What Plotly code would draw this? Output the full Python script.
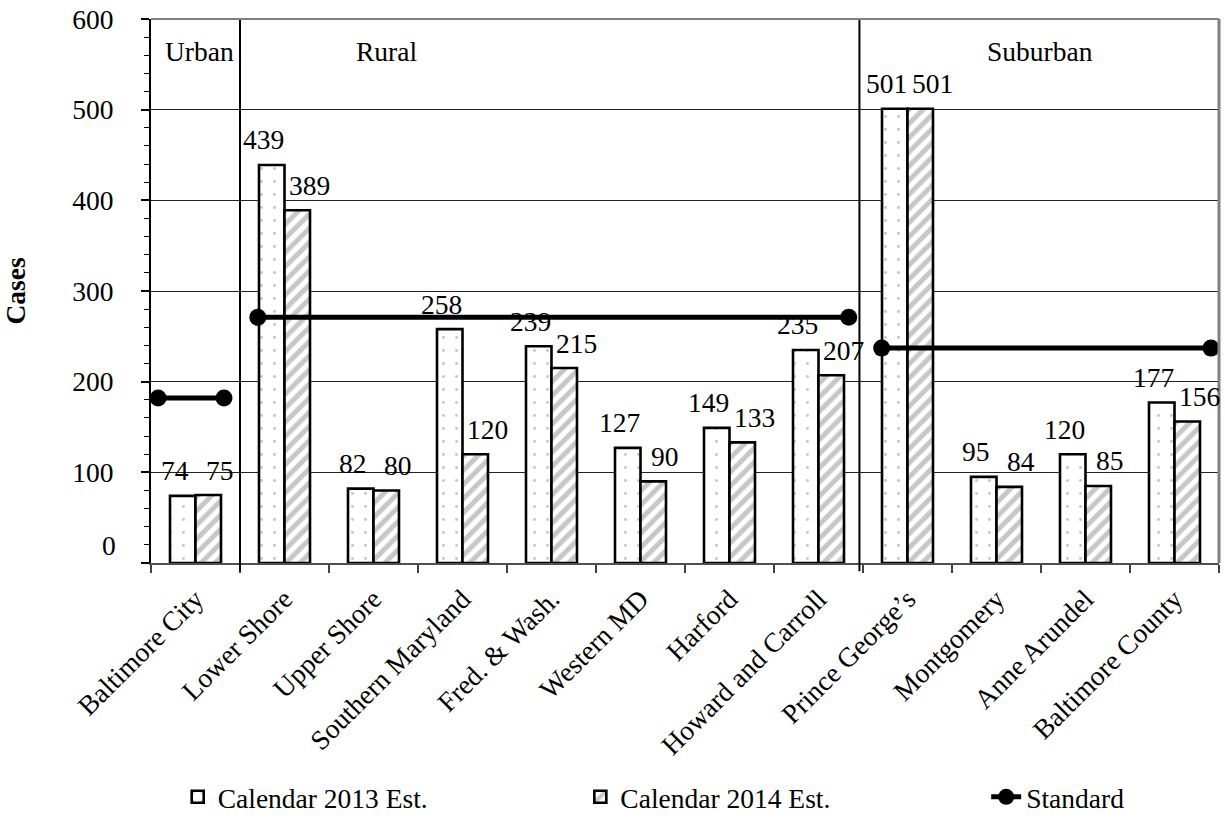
import plotly.graph_objects as go

# Caseload estimates by region, with the standard for each region type
categories = [
    "Baltimore City", "Lower Shore", "Upper Shore", "Southern Maryland",
    "Fred. & Wash.", "Western MD", "Harford", "Howard and Carroll",
    "Prince George’s", "Montgomery", "Anne Arundel", "Baltimore County",
]
est_2013 = [74, 439, 82, 258, 239, 127, 149, 235, 501, 95, 120, 177]
est_2014 = [75, 389, 80, 120, 215, 90, 133, 207, 501, 84, 85, 156]

region_names = ["Urban", "Rural", "Suburban"]
standard = [182, 271, 237]
# span of each standard line, in category-index units
standard_start = [-0.42, 0.70, 7.71]
standard_end = [0.32, 7.34, 11.41]

y_tick_vals = [0, 100, 200, 300, 400, 500, 600]
y_tick_text = ["", "100", "200", "300", "400", "500", "600"]

FONT = "Liberation Serif, Times New Roman, serif"
FS = 27.5
BARGAP = 0.427

x_idx = list(range(len(categories)))

fig = go.Figure()

fig.add_trace(go.Bar(
    x=x_idx, y=est_2013, name="Calendar 2013 Est.", legend="legend",
    showlegend=True,
    marker=dict(
        color="white",
        line=dict(color="black", width=2.6),
        pattern=dict(shape=".", fgcolor="#8c8c8c", bgcolor="white",
                     size=13, solidity=0.04),
    ),
))
fig.add_trace(go.Bar(
    x=x_idx, y=est_2014, name="Calendar 2014 Est.", legend="legend2",
    showlegend=True,
    marker=dict(
        color="white",
        line=dict(color="black", width=2.6),
        pattern=dict(shape="/", fgcolor="#909090", bgcolor="white",
                     size=10, solidity=0.5),
    ),
))

for i, (v, x0, x1) in enumerate(zip(standard, standard_start, standard_end)):
    fig.add_trace(go.Scatter(
        x=[x0, x1], y=[v, v], mode="lines+markers", name="Standard",
        legend="legend3", legendgroup="standard", showlegend=(i == 0),
        line=dict(color="black", width=5),
        marker=dict(color="black", size=17),
        cliponaxis=False,
    ))

# value labels above each bar
half = (1 - BARGAP) / 4
annotations = []
for i, (a, b) in enumerate(zip(est_2013, est_2014)):
    for off, val, dx in ((-half, a, -8), (half, b, 12)):
        annotations.append(dict(
            x=i + off, y=val, xref="x", yref="y", text=str(val),
            showarrow=False, yshift=25, xshift=dx, yanchor="middle",
            font=dict(family=FONT, size=FS, color="black"),
        ))

# region headings
for name, xpos in zip(region_names, [0.04, 2.15, 9.49]):
    annotations.append(dict(
        x=xpos, y=0.94, xref="x", yref="paper", text=name,
        showarrow=False, yanchor="middle",
        font=dict(family=FONT, size=FS, color="black"),
    ))

# zero label on the value axis
annotations.append(dict(
    x=0, y=19, xref="paper", yref="y", text="0", showarrow=False,
    xanchor="right", yanchor="middle", xshift=-33,
    font=dict(family=FONT, size=FS, color="black"),
))

shapes = []
# region dividers
for xb in [0.5, 7.46]:
    shapes.append(dict(
        type="line", xref="x", yref="paper", x0=xb, x1=xb, y0=-0.015, y1=1,
        line=dict(color="black", width=2), layer="above",
    ))
# plot-area frame (top and right)
shapes.append(dict(
    type="line", xref="paper", yref="paper", x0=0, x1=1, y0=1, y1=1,
    line=dict(color="#808080", width=2),
))
shapes.append(dict(
    type="line", xref="paper", yref="paper", x0=1, x1=1, y0=0, y1=1,
    line=dict(color="#808080", width=3),
))

legend_common = dict(
    orientation="h", y=-0.43, xanchor="left", yanchor="middle",
    font=dict(family=FONT, size=FS, color="black"),
    bgcolor="rgba(0,0,0,0)", visible=True,
)

fig.update_layout(
    width=1225, height=824,
    margin=dict(l=151, r=6, t=19, b=261, autoexpand=False),
    paper_bgcolor="white", plot_bgcolor="white",
    font=dict(family=FONT, size=FS, color="black"),
    showlegend=True,
    barmode="group", bargap=BARGAP, bargroupgap=0,
    annotations=annotations, shapes=shapes,
    legend=dict(x=0.025, **legend_common),
    legend2=dict(x=0.402, **legend_common),
    legend3=dict(x=0.782, **legend_common),
    xaxis=dict(
        range=[-0.5, 11.5], tickmode="array", tickvals=x_idx,
        ticktext=categories, tickangle=-45, ticks="",
        ticklabelstandoff=7, automargin=False,
        showgrid=False, zeroline=False,
        showline=True, linecolor="#505050", linewidth=2,
        tickfont=dict(family=FONT, size=FS, color="black"),
        minor=dict(tickmode="array",
                   tickvals=[i - 0.5 for i in range(len(categories) + 1)],
                   ticks="outside", ticklen=8, tickwidth=1.5,
                   tickcolor="#404040", showgrid=False),
    ),
    yaxis=dict(
        range=[0, 600], tickmode="array", tickvals=y_tick_vals,
        ticktext=y_tick_text, ticks="outside", ticklen=8, tickwidth=1.5,
        tickcolor="black", ticklabelstandoff=22, automargin=False,
        showgrid=True, gridcolor="#222222", gridwidth=1,
        zeroline=False, showline=True, linecolor="black", linewidth=2,
        tickfont=dict(family=FONT, size=FS, color="black"),
        minor=dict(dtick=20, tick0=0, ticks="outside", ticklen=5,
                   tickwidth=1, tickcolor="black", showgrid=False),
        title=dict(text="<b>Cases</b>", standoff=40,
                   font=dict(family=FONT, size=FS, color="black")),
    ),
)

fig.write_html("out.html")
